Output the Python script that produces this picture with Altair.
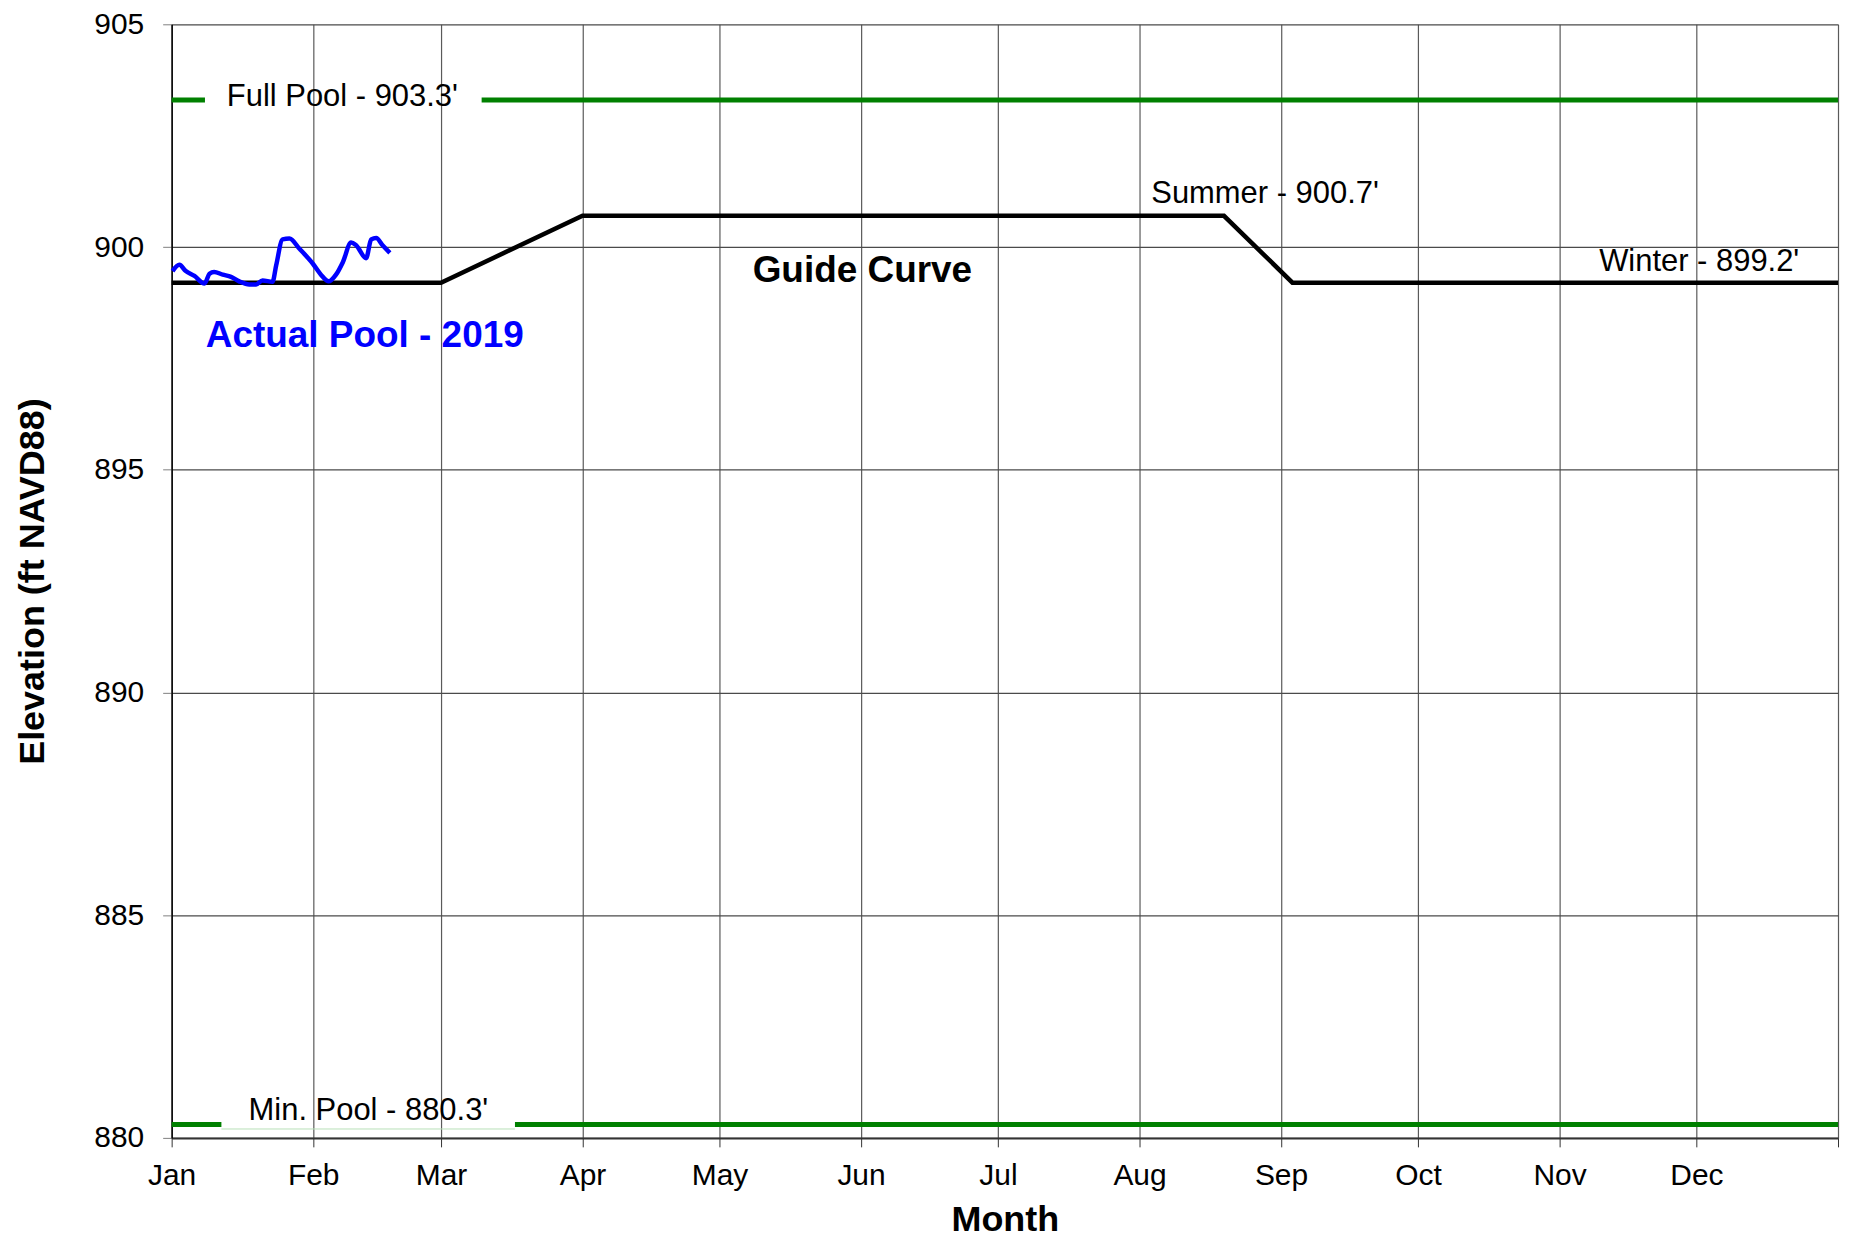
import altair as alt
import pandas as pd

# ---------------- data ----------------
months = ["Jan", "Feb", "Mar", "Apr", "May", "Jun", "Jul", "Aug", "Sep", "Oct", "Nov", "Dec"]
month_start_day = [0, 31, 59, 90, 120, 151, 181, 212, 243, 273, 304, 334]
year_end_day = 365
elev_ticks = [880, 885, 890, 895, 900, 905]

guide_day = [0, 59, 90, 230.5, 245.5, 365]
guide_elev = [899.2, 899.2, 900.7, 900.7, 899.2, 899.2]

actual_day = [0.2, 1.7, 3.1, 5.0, 7.2, 8.3, 9.3, 11.2, 13.0, 14.8, 17.0, 18.5, 19.9, 22.1,
              22.9, 24.3, 25.8, 28.0, 30.9, 32.7, 34.4, 36.0, 37.5, 39.3, 40.4, 42.6, 43.7,
              44.8, 46.2, 47.8]
actual_elev = [899.46, 899.60, 899.46, 899.35, 899.18, 899.40, 899.44, 899.38, 899.33, 899.23,
               899.16, 899.16, 899.25, 899.22, 899.59, 900.17, 900.19, 899.96, 899.63, 899.38,
               899.23, 899.38, 899.66, 900.10, 900.04, 899.75, 900.17, 900.20, 900.04, 899.87]

full_pool = 903.3
min_pool = 880.3
full_pool_gap = [7.3, 67.9]
min_pool_gap = [10.9, 75.2]

plain_labels = ["Full Pool - 903.3'", "Min. Pool - 880.3'", "Summer - 900.7'", "Winter - 899.2'"]
plain_label_day = [37.4, 43.1, 239.5, 334.6]
plain_label_elev = [903.36, 880.6, 901.19, 899.66]

guide_label = "Guide Curve"
guide_label_day = 151.3
guide_label_elev = 899.45

actual_label = "Actual Pool - 2019"
actual_label_day = 42.3
actual_label_elev = 898.0

# ---------------- tables ----------------
guide_df = pd.DataFrame({"day": guide_day, "elev": guide_elev})
actual_df = pd.DataFrame({"day": actual_day, "elev": actual_elev})
pool_df = pd.DataFrame({
    "x0": [0, full_pool_gap[1], 0, min_pool_gap[1]],
    "x1": [full_pool_gap[0], year_end_day, min_pool_gap[0], year_end_day],
    "y": [full_pool, full_pool, min_pool, min_pool],
})
faint_df = pd.DataFrame({"x0": [min_pool_gap[0]], "x1": [min_pool_gap[1]], "y": [min_pool - 0.1]})
plain_df = pd.DataFrame({"label": plain_labels, "day": plain_label_day, "elev": plain_label_elev})
guide_lab_df = pd.DataFrame({"label": [guide_label], "day": [guide_label_day], "elev": [guide_label_elev]})
actual_lab_df = pd.DataFrame({"label": [actual_label], "day": [actual_label_day], "elev": [actual_label_elev]})

FONT = "Liberation Sans"

tick_vals = month_start_day + [year_end_day]
lbl_expr = ("indexof({days}, datum.value) >= 0 ? {names}[indexof({days}, datum.value)] : ''"
            .format(days=str(month_start_day), names=str(months)))

x_scale = alt.Scale(domain=[0, year_end_day], nice=False, zero=False)
y_scale = alt.Scale(domain=[880, 905], nice=False, zero=False)

x_axis = alt.Axis(values=tick_vals, labelExpr=lbl_expr, title="Month",
                  titleFontSize=36, titleFontWeight="bold", titleColor="black",
                  labelFontSize=30, labelColor="black", labelFlush=False, labelOverlap=False,
                  labelPadding=14, titlePadding=12, tickSize=9, tickColor="#333333",
                  gridColor="#5a5a5a", gridWidth=1.2, domainColor="#333333", domainWidth=2)
y_axis = alt.Axis(values=elev_ticks, format="d", title="Elevation (ft NAVD88)",
                  titleFontSize=36, titleFontWeight="bold", titleColor="black",
                  labelFontSize=30, labelColor="black", labelPadding=19, titlePadding=42,
                  tickSize=9, tickColor="#808080", gridColor="#4a4a4a", gridWidth=1.2,
                  domainColor="black", domainWidth=1.5)

base_axes = alt.Chart(guide_df).mark_line(color="black", strokeWidth=4.5, strokeJoin="miter").encode(
    x=alt.X("day:Q", scale=x_scale, axis=x_axis),
    y=alt.Y("elev:Q", scale=y_scale, axis=y_axis),
)

faint = alt.Chart(faint_df).mark_rule(color="#b8e0b8", strokeWidth=1).encode(
    x=alt.X("x0:Q", scale=x_scale), x2="x1:Q", y=alt.Y("y:Q", scale=y_scale))

pools = alt.Chart(pool_df).mark_rule(color="#008000", strokeWidth=5).encode(
    x=alt.X("x0:Q", scale=x_scale), x2="x1:Q", y=alt.Y("y:Q", scale=y_scale))

actual = alt.Chart(actual_df).mark_line(color="#0000FF", strokeWidth=4.5, interpolate="monotone").encode(
    x=alt.X("day:Q", scale=x_scale), y=alt.Y("elev:Q", scale=y_scale), order="day:Q")

plain_text = alt.Chart(plain_df).mark_text(font=FONT, fontSize=31, color="black",
                                           align="center", baseline="middle").encode(
    x=alt.X("day:Q", scale=x_scale), y=alt.Y("elev:Q", scale=y_scale), text="label:N")

guide_text = alt.Chart(guide_lab_df).mark_text(font=FONT, fontSize=37, fontWeight="bold", color="black",
                                               align="center", baseline="middle").encode(
    x=alt.X("day:Q", scale=x_scale), y=alt.Y("elev:Q", scale=y_scale), text="label:N")

actual_text = alt.Chart(actual_lab_df).mark_text(font=FONT, fontSize=37, fontWeight="bold", color="#0000FF",
                                                 align="center", baseline="middle").encode(
    x=alt.X("day:Q", scale=x_scale), y=alt.Y("elev:Q", scale=y_scale), text="label:N")

chart = alt.layer(base_axes, faint, pools, actual, plain_text, guide_text, actual_text).properties(
    width=1670, height=1116,
    autosize=alt.AutoSizeParams(type="none"),
    padding={"left": 164, "top": 15, "right": 3, "bottom": 102},
).configure(font=FONT).configure_view(strokeWidth=0)

chart.save("out.html", embed_options={"renderer": "svg", "actions": False})
